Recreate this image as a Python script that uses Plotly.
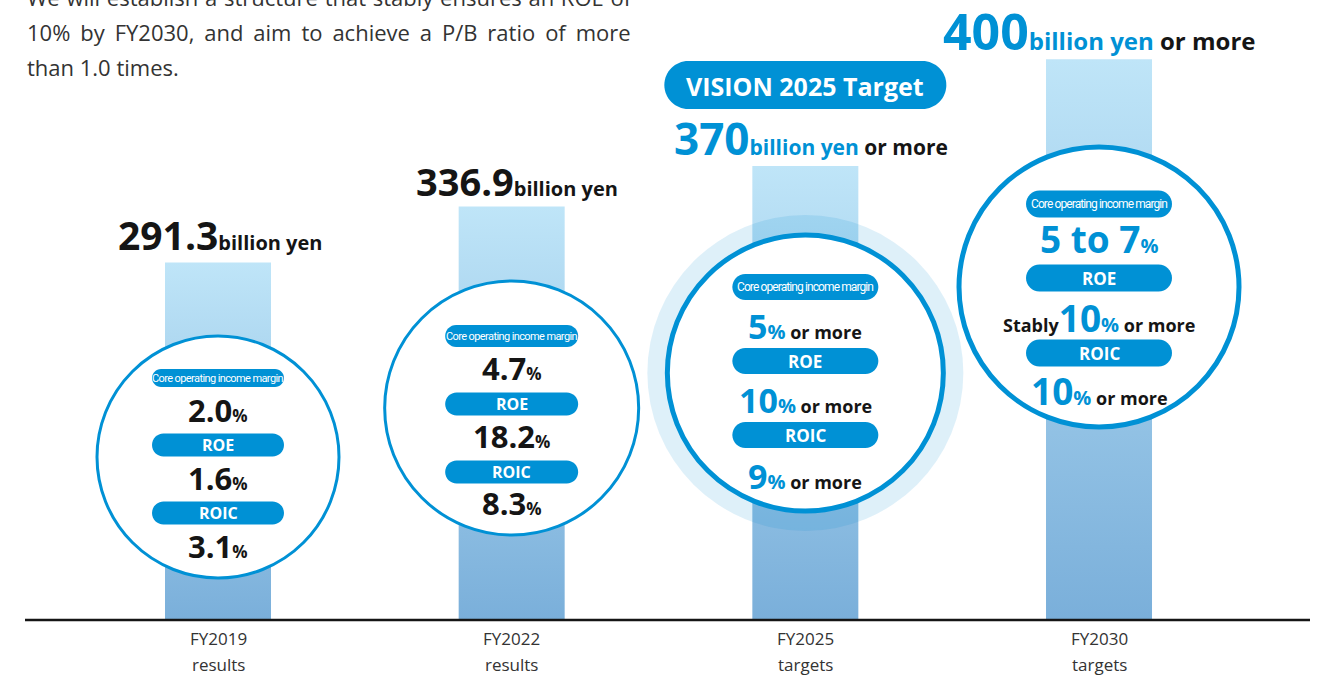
import plotly.graph_objects as go

# ---- data -------------------------------------------------------------
years = ["FY2019", "FY2022", "FY2025", "FY2030"]
phases = ["results", "results", "targets", "targets"]
sales_label = ["291.3", "336.9", "370", "400"]          # billion yen
sales_bar = [291.3, 336.9, 370.0, 457.0]                # drawn height (FY2030 bar is drawn taller)
core_margin = ["2.0", "4.7", "5", "5 to 7"]             # %
roe = ["1.6", "18.2", "10", "10"]                       # %
roic = ["3.1", "8.3", "9", "10"]                        # %
is_target = [False, False, True, True]

# ---- layout constants ---------------------------------------------------
W, H = 1326, 675
BASE = 620          # px row of the baseline
K = 1.227           # px per billion yen
X0, DX = 218, 293.67
BLUE = "#0091d5"
INK = "#151515"
FONT = "Open Sans"
NARROW = "Roboto"


def dy(p):
    """pixel row -> data y"""
    return (BASE - p) / K


def pill_path(w, h):
    r = h / 2
    k = 0.5523 * r
    x0, x1, y0, y1 = -w / 2, w / 2, -h / 2, h / 2
    return (f"M{x0 + r},{y0} L{x1 - r},{y0} "
            f"C{x1 - r + k},{y0} {x1},{-k} {x1},0 "
            f"C{x1},{k} {x1 - r + k},{y1} {x1 - r},{y1} "
            f"L{x0 + r},{y1} "
            f"C{x0 + r - k},{y1} {x0},{k} {x0},0 "
            f"C{x0},{-k} {x0 + r - k},{y0} {x0 + r},{y0} Z")


# circle: (centre row px, radius, line width)
circles = [(457, 121, 3), (408, 127, 3), (373, 138, 5), (287, 140, 5)]
# rows (px) of: pill1, value1, pill2, value2, pill3, value3
rows = [
    (378, 410, 445, 478, 513, 546),
    (336, 368, 404, 436, 472, 503),
    (287, 326, 361, 400, 435, 476),
    (204, 238, 278, 317, 353, 390),
]
pill_w = [132, 133, 146, 146]
pill_h = [(18, 23, 23), (22, 23, 23), (26, 26, 26), (27, 27, 27)]
label_rows = [234, 181, 138, 31]
label_big = [39, 38, 44, 50]
label_small = [20, 20, 21, 24]

xr = [-X0 / DX, (W - X0) / DX]
bw = 106 / DX

fig = go.Figure()

# gradient bars
for i, h in enumerate(sales_bar):
    fig.add_trace(go.Scatter(
        x=[i - bw / 2, i + bw / 2, i + bw / 2, i - bw / 2, i - bw / 2],
        y=[0, 0, h, h, 0],
        mode="lines", line=dict(width=0),
        fill="toself",
        fillgradient=dict(type="vertical",
                          colorscale=[[0, "#7aafda"], [1, "#bfe5f8"]]),
        hoverinfo="skip", showlegend=False,
    ))

shapes = []
annotations = []


def add_pill(i, row, w, h, color=BLUE):
    shapes.append(dict(
        type="path", layer="above",
        xref="x", xsizemode="pixel", xanchor=i,
        yref="y", ysizemode="pixel", yanchor=dy(row),
        path=pill_path(w, h), fillcolor=color, line=dict(width=0),
    ))


def add_text(i, row, text, size, color=INK, family=FONT, xshift=0):
    annotations.append(dict(
        x=i, y=dy(row), xref="x", yref="y", text=text, showarrow=False,
        font=dict(family=family, size=size, color=color),
        xanchor="center", yanchor="middle", xshift=xshift,
    ))


def pct(v, target, small, suffix=True):
    if not target:
        return f"<b>{v}</b><span style='font-size:{small}px'><b>%</b></span>"
    s = (f"<span style='color:{BLUE}'><b>{v}</b></span>"
         f"<span style='color:{BLUE};font-size:{small}px'><b>%</b></span>")
    if suffix:
        s += "<span style='font-size:18px'><b> or more</b></span>"
    return s


for i in range(len(years)):
    cy, r, lw = circles[i]
    if i == 2:
        shapes.append(dict(
            type="circle", layer="above",
            xref="x", xsizemode="pixel", xanchor=i, x0=-158, x1=158,
            yref="y", ysizemode="pixel", yanchor=dy(cy), y0=-158, y1=158,
            fillcolor="rgba(0,140,210,0.13)", line=dict(width=0),
        ))
    shapes.append(dict(
        type="circle", layer="above",
        xref="x", xsizemode="pixel", xanchor=i, x0=-r, x1=r,
        yref="y", ysizemode="pixel", yanchor=dy(cy), y0=-r, y1=r,
        fillcolor="white", line=dict(color=BLUE, width=lw),
    ))

    p1, v1, p2, v2, p3, v3 = rows[i]
    h1, h2, h3 = pill_h[i]
    w = pill_w[i]
    t = is_target[i]
    add_pill(i, p1, w, h1)
    add_pill(i, p2, w, h2)
    add_pill(i, p3, w, h3)
    ls = -0.9 if t else -0.6
    narrow = f"<span style='letter-spacing:{ls}px'>Core operating income margin</span>"
    add_text(i, p1, narrow, 12 if t else 11, "white", NARROW)
    add_text(i, p2, "<b>ROE</b>", 17 if t else 16, "white")
    add_text(i, p3, "<b>ROIC</b>", 17 if t else 16, "white")

    if i < 2:
        add_text(i, v1, pct(core_margin[i], t, 17), 31)
        add_text(i, v2, pct(roe[i], t, 17), 31)
        add_text(i, v3, pct(roic[i], t, 17), 31)
    elif i == 2:
        add_text(i, v1, pct(core_margin[i], t, 20), 34)
        add_text(i, v2, pct(roe[i], t, 20), 34)
        add_text(i, v3, pct(roic[i], t, 20), 34)
    else:
        add_text(i, v1, pct(core_margin[i], t, 20, suffix=False), 37, BLUE)
        add_text(i, v2, "<span style='font-size:18px'><b>Stably</b></span>"
                 + pct(roe[i], t, 20), 37)
        add_text(i, v3, pct(roic[i], t, 20), 37)

    # sales label above each bar
    sm = label_small[i]
    if t:
        txt = (f"<span style='color:{BLUE}'><b>{sales_label[i]}</b></span>"
               f"<span style='color:{BLUE};font-size:{sm}px'><b>billion yen</b></span>"
               f"<span style='font-size:{sm}px'><b> or more</b></span>")
    else:
        txt = (f"<b>{sales_label[i]}</b>"
               f"<span style='font-size:{sm}px'><b>billion yen</b></span>")
    add_text(i, label_rows[i], txt, label_big[i], xshift=[2, 5, 6, 0][i])

    # category labels
    add_text(i, 638, years[i], 17, "#333333")
    add_text(i, 664, phases[i], 17, "#333333")

# VISION 2025 pill
add_pill(2, 85, 282, 48)
add_text(2, 86, "<b>VISION 2025 Target</b>", 25, "white")

# baseline
shapes.append(dict(type="line", xref="paper", yref="y",
                   x0=25 / W, x1=1310 / W, y0=0, y1=0,
                   line=dict(color=INK, width=2.5), layer="above"))

# intro text (justified in the source, approximated with word spacing)
intro = [
    ("We will establish a structure that stably ensures an ROE of", 1.0),
    ("10% by FY2030, and aim to achieve a P/B ratio of more", 4.2),
    ("than 1.0 times.", 0),
]
for k, (line, ws) in enumerate(intro):
    annotations.append(dict(
        x=25 / W, y=(H - (-3 + 35 * k)) / H, xref="paper", yref="paper",
        text=f"<span style='word-spacing:{ws}px'>{line}</span>",
        showarrow=False, xanchor="left", yanchor="middle",
        font=dict(family=FONT, size=22, color="#333333"),
    ))

fig.update_layout(
    width=W, height=H,
    margin=dict(l=0, r=0, t=0, b=0),
    paper_bgcolor="white", plot_bgcolor="white",
    showlegend=False,
    xaxis=dict(range=xr, visible=False, fixedrange=True),
    yaxis=dict(range=[dy(H), dy(0)], visible=False, fixedrange=True),
    shapes=shapes,
    annotations=annotations,
)

fig.write_html("out.html", config={"displayModeBar": False},
               post_script="document.body.style.margin='0';")
